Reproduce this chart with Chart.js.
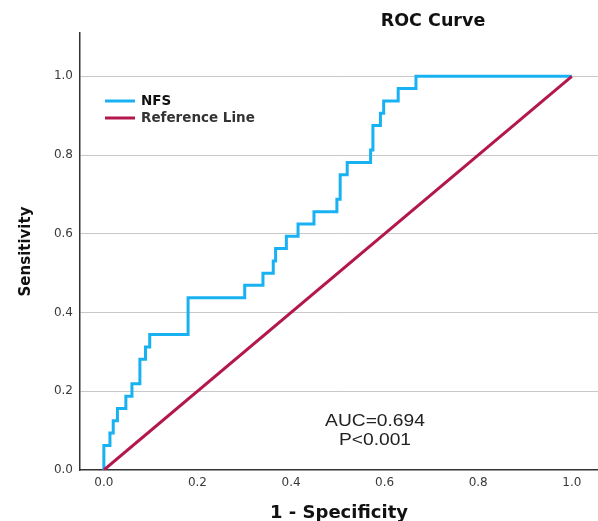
<!DOCTYPE html>
<html lang="en">
<head>
    <meta charset="UTF-8">
    <title>ROC Curve</title>
    <script src="https://cdn.jsdelivr.net/npm/chart.js"></script>
    <style>
        body {
            margin: 0;
            padding: 0;
            background: #fff;
        }

        .chart-box {
            width: 598px;
            height: 521px;
        }
    </style>
</head>
<body>
    <div class="chart-box">
        <canvas id="rocChart"></canvas>
    </div>

    <script>
        // ROC points for NFS (1 - specificity, sensitivity)
        var nfsFpr = [0, 0, 0.013, 0.013, 0.02, 0.02, 0.029, 0.029, 0.047, 0.047, 0.06, 0.06, 0.077, 0.077,
            0.089, 0.089, 0.098, 0.098, 0.18, 0.18, 0.301, 0.301, 0.34, 0.34, 0.362, 0.362, 0.367, 0.367,
            0.39, 0.39, 0.415, 0.415, 0.449, 0.449, 0.498, 0.498, 0.505, 0.505, 0.52, 0.52, 0.57, 0.57,
            0.575, 0.575, 0.591, 0.591, 0.598, 0.598, 0.629, 0.629, 0.667, 0.667, 1];
        var nfsTpr = [0, 0.0625, 0.0625, 0.094, 0.094, 0.125, 0.125, 0.156, 0.156, 0.1875, 0.1875, 0.219, 0.219, 0.281,
            0.281, 0.3125, 0.3125, 0.344, 0.344, 0.4375, 0.4375, 0.469, 0.469, 0.5, 0.5, 0.531, 0.531, 0.5625,
            0.5625, 0.594, 0.594, 0.625, 0.625, 0.656, 0.656, 0.6875, 0.6875, 0.75, 0.75, 0.781, 0.781, 0.8125,
            0.8125, 0.875, 0.875, 0.906, 0.906, 0.9375, 0.9375, 0.969, 0.969, 1, 1];
        var refX = [0, 1];
        var refY = [0, 1];
        var tickValues = [0, 0.2, 0.4, 0.6, 0.8, 1.0];
        var aucText = ['AUC=0.694', 'P<0.001'];

        var nfsColor = '#18B2F2';
        var refColor = '#B3174E';

        function toPoints(xs, ys) {
            return xs.map(function (x, i) { return { x: x, y: ys[i] }; });
        }

        function setTicks(scale) {
            scale.ticks = tickValues.map(function (v) { return { value: v }; });
        }

        // title, legend and AUC text are placed by hand like in the original
        var extras = {
            id: 'extras',
            afterDraw: function (chart) {
                var ctx = chart.ctx;
                ctx.save();
                ctx.textBaseline = 'middle';

                ctx.fillStyle = '#111';
                ctx.textAlign = 'center';
                ctx.font = 'bold 17.5px "DejaVu Sans"';
                ctx.fillText('ROC Curve', 433, 21);

                ctx.lineWidth = 3;
                ctx.strokeStyle = nfsColor;
                ctx.beginPath();
                ctx.moveTo(105, 101);
                ctx.lineTo(135, 101);
                ctx.stroke();
                ctx.strokeStyle = refColor;
                ctx.beginPath();
                ctx.moveTo(105, 118);
                ctx.lineTo(135, 118);
                ctx.stroke();

                ctx.textAlign = 'left';
                ctx.font = 'bold 13.5px "DejaVu Sans"';
                ctx.fillStyle = '#111';
                ctx.fillText('NFS', 141, 101);
                ctx.fillStyle = '#333';
                ctx.fillText('Reference Line', 141, 118);

                ctx.fillStyle = '#222';
                ctx.textAlign = 'center';
                ctx.font = '16px "Liberation Sans"';
                aucText.forEach(function (t, i) {
                    ctx.save();
                    ctx.translate(375, 422 + i * 19);
                    ctx.scale(1.2, 1);
                    ctx.fillText(t, 0, 0);
                    ctx.restore();
                });
                ctx.restore();
            }
        };

        var ctxRoc = document.getElementById('rocChart').getContext('2d');
        var rocChart = new Chart(ctxRoc, {
            type: 'line',
            data: {
                datasets: [{
                    label: 'NFS',
                    data: toPoints(nfsFpr, nfsTpr),
                    borderColor: nfsColor,
                    borderWidth: 3,
                    pointRadius: 0,
                    tension: 0,
                    order: 1
                }, {
                    label: 'Reference Line',
                    data: toPoints(refX, refY),
                    borderColor: refColor,
                    borderWidth: 3,
                    pointRadius: 0,
                    tension: 0,
                    order: 0
                }]
            },
            options: {
                responsive: true,
                maintainAspectRatio: false,
                animation: false,
                layout: {
                    padding: { top: 33, right: 0, left: 0, bottom: 0 }
                },
                plugins: {
                    legend: { display: false },
                    tooltip: { enabled: false }
                },
                scales: {
                    x: {
                        type: 'linear',
                        min: -0.051,
                        max: 1.056,
                        afterBuildTicks: setTicks,
                        afterFit: function (scale) { scale.height = 51; },
                        grid: { display: false, drawTicks: false },
                        border: { color: '#333', width: 1.5 },
                        ticks: {
                            padding: 6,
                            color: '#3a3a3a',
                            font: { family: 'DejaVu Sans', size: 12 },
                            callback: function (v) { return v.toFixed(1); }
                        },
                        title: {
                            display: true,
                            text: '1 - Specificity',
                            color: '#111',
                            font: { family: 'DejaVu Sans', size: 18, weight: 'bold' },
                            padding: { top: 0, bottom: -3 }
                        }
                    },
                    y: {
                        min: 0,
                        max: 1.11,
                        afterBuildTicks: setTicks,
                        afterFit: function (scale) { scale.width = 80; },
                        grid: {
                            drawTicks: false,
                            color: function (c) { return c.tick.value === 0 ? 'rgba(0,0,0,0)' : '#c8c8c8'; }
                        },
                        border: { color: '#333', width: 1.5 },
                        ticks: {
                            padding: 7,
                            color: '#3a3a3a',
                            font: { family: 'DejaVu Sans', size: 12 },
                            callback: function (v) { return v.toFixed(1); }
                        },
                        title: {
                            display: true,
                            text: 'Sensitivity',
                            color: '#111',
                            font: { family: 'DejaVu Sans', size: 15, weight: 'bold' },
                            padding: { top: 17, bottom: 0 }
                        }
                    }
                }
            },
            plugins: [extras]
        });
    </script>
</body>
</html>
